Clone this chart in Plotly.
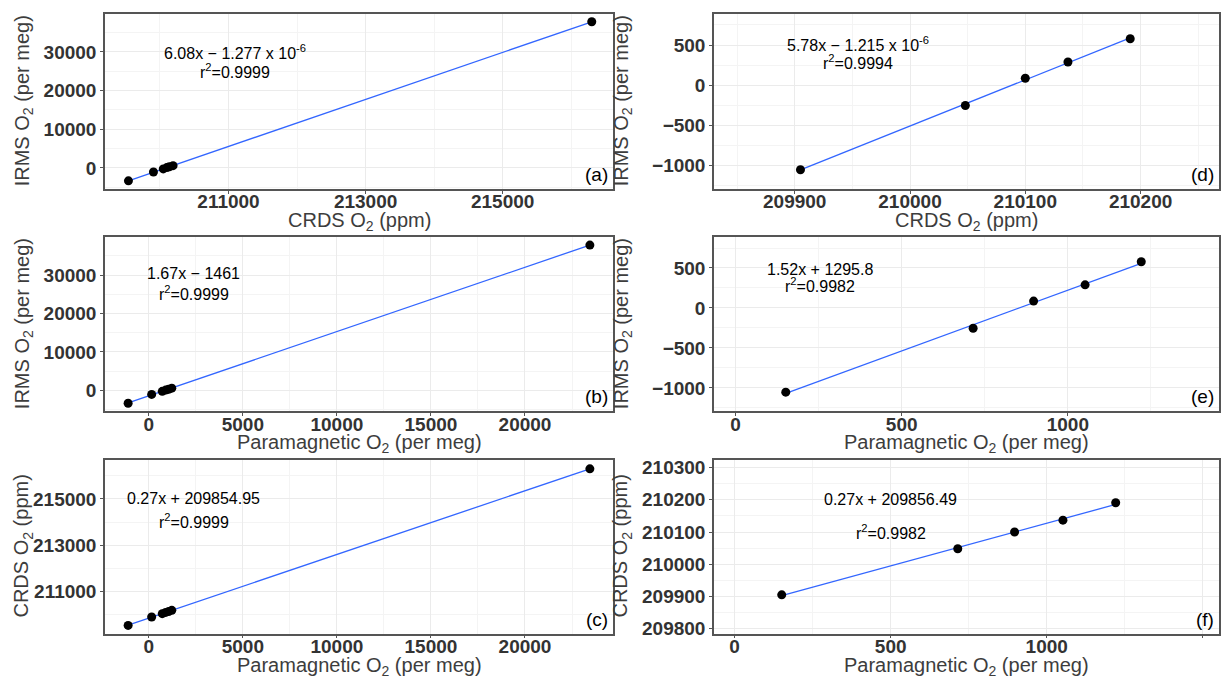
import numpy as np
import plotly.graph_objects as go

# ---- data ----
irms = [-3350, -1053, -253, 86, 289, 578, 37800]                  # IRMS O2 (per meg)
crds = [209540, 209905, 210048, 210100, 210137, 210191, 216300]   # CRDS O2 (ppm)
para = [-1100, 151, 715, 897, 1052, 1221, 23450]                  # Paramagnetic O2 (per meg)
sub = slice(1, 6)   # ambient-range subset shown in right-hand panels

eq_text = {
    "a": ("6.08x − 1.277 x 10<sup>-6</sup>", "r<sup>2</sup>=0.9999"),
    "b": ("1.67x − 1461", "r<sup>2</sup>=0.9999"),
    "c": ("0.27x + 209854.95", "r<sup>2</sup>=0.9999"),
    "d": ("5.78x − 1.215 x 10<sup>-6</sup>", "r<sup>2</sup>=0.9994"),
    "e": ("1.52x + 1295.8", "r<sup>2</sup>=0.9982"),
    "f": ("0.27x + 209856.49", "r<sup>2</sup>=0.9982"),
}
eq_pos = {
    "a": (211100, 30000, 25000),
    "b": (2400, 30500, 25400),
    "c": (2400, 215000, 214040),
    "d": (209955, 510, 290),
    "e": (255, 480, 290),
    "f": (500, 210200, 210100),
}

W, H = 1221, 682
def xd(l, r):
    return [l / W, r / W]
def yd(t, b):
    return [1 - b / H, 1 - t / H]

T_CRDS = "CRDS O<sub>2</sub> (ppm)"
T_IRMS = "IRMS O<sub>2</sub> (per meg)"
T_PARA = "Paramagnetic O<sub>2</sub> (per meg)"

# panel geometry in pixels: (left, right, y-title centre x), (top, bottom)
LEFT_COL = (105, 613, 23)
RIGHT_COL = (714, 1219, 622)
ROWS = [(12, 189), (238, 414), (463, 639)]

panels = [
    ("a", crds, irms, LEFT_COL, ROWS[0], [209198, 216610], [-5400, 39850], 2000, 211000, 10000, 0, T_CRDS, T_IRMS),
    ("b", para, irms, LEFT_COL, ROWS[1], [-2330, 24680], [-5400, 39850], 5000, 0, 10000, 0, T_PARA, T_IRMS),
    ("c", para, crds, LEFT_COL, ROWS[2], [-2330, 24680], [209190, 216700], 5000, 0, 2000, 211000, T_PARA, T_CRDS),
    ("d", crds[sub], irms[sub], RIGHT_COL, ROWS[0], [209830, 210268], [-1290, 888], 100, 209900, 500, 0, T_CRDS, T_IRMS),
    ("e", para[sub], irms[sub], RIGHT_COL, ROWS[1], [-65, 1455], [-1290, 885], 500, 0, 500, 0, T_PARA, T_IRMS),
    ("f", para[sub], crds[sub], RIGHT_COL, ROWS[2], [-66, 1552], [209785, 210325], 500, 0, 100, 209800, T_PARA, T_CRDS),
]

FONT = "Liberation Sans, Arial, sans-serif"
tickfont = dict(family=FONT, size=19, color="#333333", weight="bold")
titlefont = dict(family=FONT, size=20, color="#3d3d3d")

fig = go.Figure()
layout = dict(
    width=W, height=H, margin=dict(l=0, r=0, t=0, b=0, pad=0),
    paper_bgcolor="white", plot_bgcolor="white", showlegend=False,
    font=dict(family=FONT, color="#000"),
)
annotations = []

for i, (key, xv, yv, (pl, pr, ytx), (pt, pb), xr, yr, xdt, xt0, ydt, yt0, xtitle, ytitle) in enumerate(panels):
    n = "" if i == 0 else str(i + 1)
    xa, ya = "x" + n, "y" + n
    xv = np.array(xv, dtype=float)
    yv = np.array(yv, dtype=float)
    k, b0 = np.polyfit(xv, yv, 1)
    xl = np.array([xv.min(), xv.max()])
    fig.add_trace(go.Scatter(x=xl, y=k * xl + b0, mode="lines",
                             line=dict(color="#3366FF", width=1.3),
                             xaxis=xa, yaxis=ya, hoverinfo="skip"))
    fig.add_trace(go.Scatter(x=xv, y=yv, mode="markers",
                             marker=dict(color="black", size=9),
                             xaxis=xa, yaxis=ya))
    axcommon = dict(showline=True, mirror=True, linecolor="#555555", linewidth=1.5,
                    ticks="outside", ticklen=3, tickcolor="#555555", tickwidth=1,
                    showgrid=True, gridcolor="#EBEBEB", gridwidth=1, zeroline=False,
                    tickfont=tickfont, tickmode="linear", tickformat="d")
    layout["xaxis" + n] = dict(axcommon, domain=xd(pl, pr), range=xr, dtick=xdt, tick0=xt0,
                               anchor=ya, ticklabelstandoff=-8,
                               minor=dict(showgrid=True, gridcolor="#F4F4F4", gridwidth=0.6,
                                          dtick=xdt / 2, tick0=xt0))
    layout["yaxis" + n] = dict(axcommon, domain=yd(pt, pb), range=yr, dtick=ydt, tick0=yt0,
                               anchor=xa,
                               minor=dict(showgrid=True, gridcolor="#F4F4F4", gridwidth=0.6,
                                          dtick=ydt / 2, tick0=yt0))
    # axis titles
    annotations.append(dict(x=(pl + pr) / 2 / W, y=1 - (pb + 33) / H, xref="paper", yref="paper",
                            text=xtitle, showarrow=False, xanchor="center", yanchor="middle",
                            font=titlefont))
    annotations.append(dict(x=ytx / W, y=1 - (pt + pb) / 2 / H, xref="paper", yref="paper",
                            text=ytitle, showarrow=False, textangle=-90, xanchor="center",
                            yanchor="middle", font=titlefont))
    ex, ey1, ey2 = eq_pos[key]
    t1, t2 = eq_text[key]
    annotations.append(dict(x=ex, y=ey1, xref=xa, yref=ya, text=t1, showarrow=False,
                            font=dict(family=FONT, size=16, color="black")))
    annotations.append(dict(x=ex, y=ey2, xref=xa, yref=ya, text=t2, showarrow=False,
                            font=dict(family=FONT, size=16, color="black")))
    annotations.append(dict(x=0.995, y=0.01, xref=xa + " domain", yref=ya + " domain",
                            text="(" + key + ")", showarrow=False, xanchor="right",
                            yanchor="bottom", font=dict(family=FONT, size=19, color="black")))

layout["annotations"] = annotations
fig.update_layout(**layout)
fig.write_html("out.html", post_script="document.body.style.margin='0px';",
               config={"displayModeBar": False})
